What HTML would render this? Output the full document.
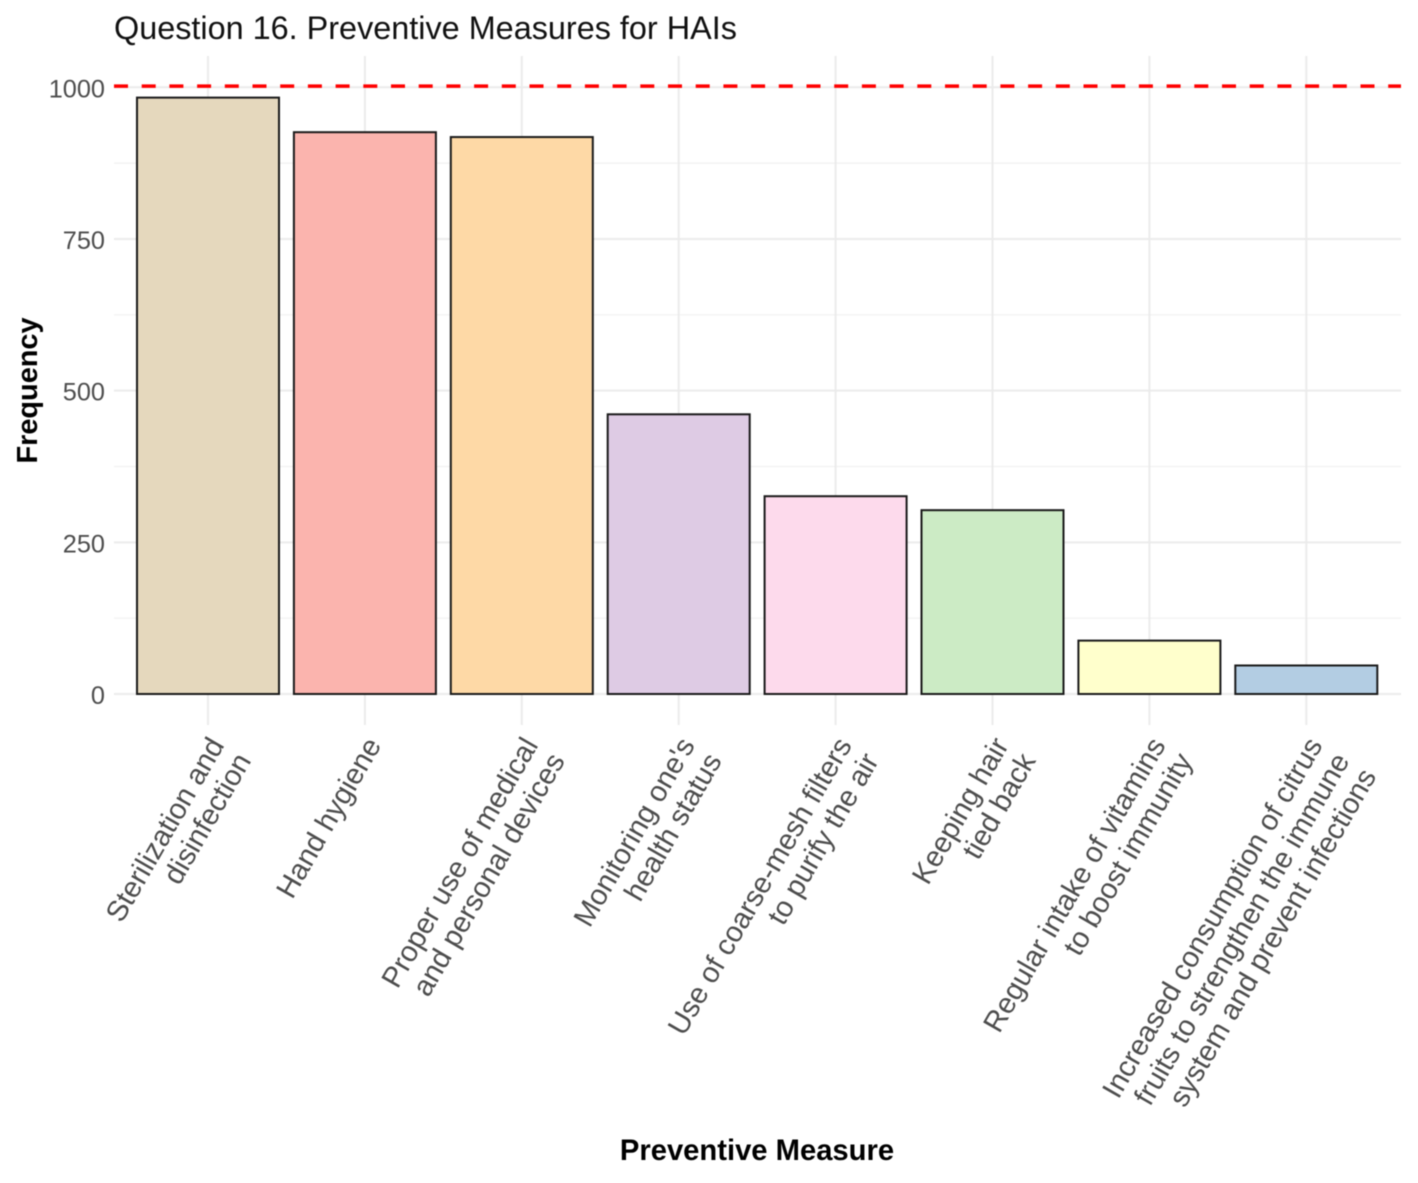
<!DOCTYPE html>
<html lang="en">
<head>
<meta charset="utf-8">
<title>Question 16. Preventive Measures for HAIs</title>
<style>
html,body{margin:0;padding:0;background:#fff;}
svg{display:block;font-family:"Liberation Sans",Arial,sans-serif;filter:blur(0.45px);}
</style>
</head>
<body>
<svg id="chart" width="1418" height="1183" viewBox="0 0 1418 1183" xmlns="http://www.w3.org/2000/svg">
<rect x="0" y="0" width="1418" height="1183" fill="#fff"/>
<g id="grid"></g>
<g id="bars"></g>
<g id="threshold"></g>
<g id="yticks"></g>
<g id="xticks"></g>
<text x="114" y="39" font-size="32.4" fill="#111">Question 16. Preventive Measures for HAIs</text>
<text transform="translate(37,390.5) rotate(-90)" text-anchor="middle" font-size="28.9" font-weight="700" fill="#000">Frequency</text>
<text x="757" y="1160" text-anchor="middle" font-size="29.2" font-weight="700" fill="#000">Preventive Measure</text>
</svg>
<script>
const categories = [
  ["Sterilization and", "disinfection"],
  ["Hand hygiene"],
  ["Proper use of medical", "and personal devices"],
  ["Monitoring one's", "health status"],
  ["Use of coarse-mesh filters", "to purify the air"],
  ["Keeping hair", "tied back"],
  ["Regular intake of vitamins", "to boost immunity"],
  ["Increased consumption of citrus", "fruits to strengthen the immune", "system and prevent infections"]
];
const frequencies = [983, 926, 918, 461, 326, 303, 88, 47];
const barColors = ["#E5D8BD", "#FBB4AE", "#FED9A6", "#DECBE4", "#FDDAEC", "#CCEBC5", "#FFFFCC", "#B3CDE3"];
const yTickValues = [0, 250, 500, 750, 1000];
const yMinorValues = [125, 375, 625, 875];
const thresholdValue = 1002;

const NS = "http://www.w3.org/2000/svg";
function yScale(v) { return 694 - v * 0.6067; }
function xScale(i) { return 208 + i * 156.9; }
const plotLeft = 114, plotRight = 1401, plotTop = 56, plotBottom = 725, barWidth = 142;

function make(tag, parent, attrs) {
  const el = document.createElementNS(NS, tag);
  for (const k in attrs) el.setAttribute(k, attrs[k]);
  parent.appendChild(el);
  return el;
}
const grid = document.getElementById("grid");
const bars = document.getElementById("bars");
const thresholdLayer = document.getElementById("threshold");
const yticks = document.getElementById("yticks");
const xticks = document.getElementById("xticks");

yMinorValues.forEach(function (v) {
  const l = make("line", grid, {x1: plotLeft, x2: plotRight, y1: yScale(v), y2: yScale(v), stroke: "#f1f1f1", "stroke-width": 1.2});
  
  
});
yTickValues.forEach(function (v) {
  const l = make("line", grid, {x1: plotLeft, x2: plotRight, y1: yScale(v), y2: yScale(v), stroke: "#ebebeb", "stroke-width": 2});
  
  
  const t = make("text", yticks, {x: 105, y: yScale(v) + 10, "text-anchor": "end", "font-size": 25.3, fill: "#4d4d4d"});
  
  
  t.textContent = String(v);
});
categories.forEach(function (lines, i) {
  const cx = xScale(i);
  const vl = make("line", grid, {x1: cx, x2: cx, y1: plotTop, y2: plotBottom, stroke: "#ebebeb", "stroke-width": 2});
  
  

  const top = yScale(frequencies[i]);
  const b = make("rect", bars, {x: cx - barWidth / 2, y: top, width: barWidth, height: yScale(0) - top, fill: barColors[i], stroke: "#1a1a1a", "stroke-width": 2});
  
  

  const g = make("g", xticks, {transform: "translate(" + (cx + 17) + ",745) rotate(-60)"});
  
  
  lines.forEach(function (line, j) {
    const t = make("text", g, {x: 0, y: j * 31, "text-anchor": "end", "font-size": 29.05, fill: "#4d4d4d"});
    
    
    t.textContent = line;
  });
});
const th = make("line", thresholdLayer, {x1: plotLeft, x2: plotRight, y1: yScale(thresholdValue), y2: yScale(thresholdValue), stroke: "#ff0000", "stroke-width": 3.5, "stroke-dasharray": "14 13.7"});


</script>
</body>
</html>
